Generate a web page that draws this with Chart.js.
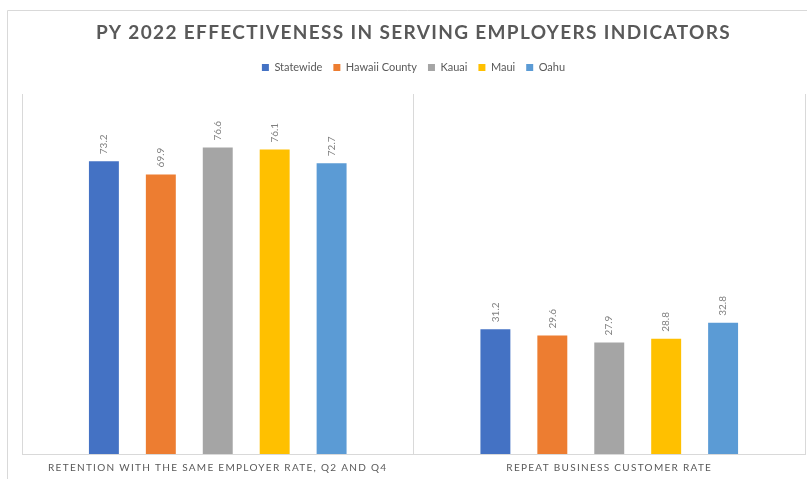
<!DOCTYPE html>
<html>
<head>
<meta charset="utf-8">
<script src="https://cdn.jsdelivr.net/npm/chart.js@4.4.0/dist/chart.umd.min.js"></script>
<style>
  html, body { margin: 0; padding: 0; background: #fff; }
  #wrap { position: relative; width: 807px; height: 479px; }
</style>
</head>
<body>
<div id="wrap"><canvas id="myChart"></canvas></div>
<script>
// chart data
const chartTitle = 'PY 2022 EFFECTIVENESS IN SERVING EMPLOYERS INDICATORS';
const categories = ['RETENTION WITH THE SAME EMPLOYER RATE, Q2 AND Q4', 'REPEAT BUSINESS CUSTOMER RATE'];
const seriesNames = ['Statewide', 'Hawaii County', 'Kauai', 'Maui', 'Oahu'];
const statewide = [73.2, 31.2];
const hawaiiCounty = [69.9, 29.6];
const kauai = [76.6, 27.9];
const maui = [76.1, 28.8];
const oahu = [72.7, 32.8];
const seriesColors = ['#4472C4', '#ED7D31', '#A5A5A5', '#FFC000', '#5B9BD5'];

const seriesValues = [statewide, hawaiiCounty, kauai, maui, oahu];
const textGray = '#595959';
const lineGray = '#d9d9d9';

// frame + title, drawn before everything
const framePlugin = {
    id: 'frame',
    beforeDraw(chart) {
        const ctx = chart.ctx;
        ctx.save();
        ctx.strokeStyle = lineGray;
        ctx.lineWidth = 1;
        ctx.beginPath();
        ctx.moveTo(7.5, chart.height);
        ctx.lineTo(7.5, 10.5);
        ctx.lineTo(chart.width, 10.5);
        ctx.stroke();

        ctx.fillStyle = textGray;
        ctx.font = 'bold 19px Lato';
        ctx.letterSpacing = '1.35px';
        ctx.textAlign = 'center';
        ctx.textBaseline = 'middle';
        ctx.fillText(chartTitle, (chart.chartArea.left + chart.chartArea.right) / 2, 33);
        ctx.restore();
    }
};

// extra gap between the legend and the plot
const legendGapPlugin = {
    id: 'legendGap',
    beforeInit(chart) {
        const fitLegend = chart.legend.fit;
        chart.legend.fit = function fit() {
            fitLegend.bind(chart.legend)();
            this.height += 11;
        };
    }
};

// category labels under the axis (spaced capitals)
const categoryLabelPlugin = {
    id: 'categoryLabels',
    afterDraw(chart) {
        const ctx = chart.ctx;
        const xScale = chart.scales.x;
        ctx.save();
        ctx.fillStyle = textGray;
        ctx.font = '10px Lato';
        ctx.letterSpacing = '1.3px';
        ctx.textAlign = 'center';
        ctx.textBaseline = 'middle';
        categories.forEach((label, i) => {
            ctx.fillText(label, xScale.getPixelForValue(i), xScale.bottom + 14);
        });
        ctx.restore();
    }
};

// rotated value labels above each bar
const valueLabelPlugin = {
    id: 'valueLabels',
    afterDatasetsDraw(chart) {
        const ctx = chart.ctx;
        ctx.save();
        ctx.fillStyle = '#7f7f7f';
        ctx.font = '10px Lato';
        ctx.textAlign = 'left';
        ctx.textBaseline = 'middle';
        chart.data.datasets.forEach((ds, i) => {
            const meta = chart.getDatasetMeta(i);
            meta.data.forEach((bar, j) => {
                ctx.save();
                ctx.translate(bar.x, bar.y - 7);
                ctx.rotate(-Math.PI / 2);
                ctx.fillText(ds.data[j].toFixed(1), 0, 0);
                ctx.restore();
            });
        });
        ctx.restore();
    }
};

const data = {
    labels: categories,
    datasets: seriesNames.map((name, i) => ({
        label: name,
        data: seriesValues[i],
        backgroundColor: seriesColors[i],
        borderWidth: 0,
        categoryPercentage: 0.727,
        barPercentage: 0.526
    }))
};

const config = {
    type: 'bar',
    data,
    options: {
        responsive: true,
        maintainAspectRatio: false,
        animation: false,
        layout: {
            padding: { top: 51, left: 22, right: 2, bottom: 25 }
        },
        scales: {
            x: {
                grid: {
                    display: true,
                    offset: true,
                    color: lineGray,
                    drawTicks: false
                },
                border: { display: true, color: lineGray },
                ticks: { display: false }
            },
            y: {
                display: false,
                min: 0,
                max: 90
            }
        },
        plugins: {
            title: { display: false },
            tooltip: { enabled: false },
            legend: {
                position: 'top',
                labels: {
                    boxWidth: 7,
                    boxHeight: 7,
                    color: textGray,
                    font: { family: 'Lato', size: 11 },
                    padding: 11
                }
            }
        }
    },
    plugins: [framePlugin, legendGapPlugin, categoryLabelPlugin, valueLabelPlugin]
};

const myChart = new Chart(document.getElementById('myChart'), config);
</script>
</body>
</html>
